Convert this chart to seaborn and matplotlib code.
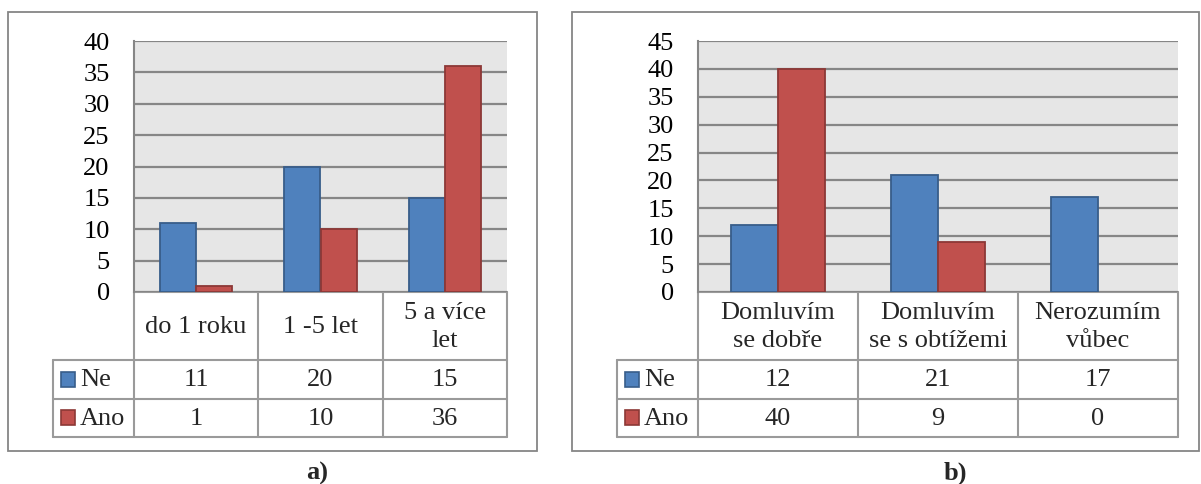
import pandas as pd
import seaborn as sns
import matplotlib.pyplot as plt
from matplotlib.patches import Rectangle

sns.set_theme(style="white")
plt.rcParams["font.family"] = ["Liberation Serif", "DejaVu Serif"]

# data
series = ["Ne", "Ano"]
a_categories = ["do 1 roku", "1 -5 let", "5 a více\nlet"]
a_ne = [11, 20, 15]
a_ano = [1, 10, 36]
b_categories = ["Domluvím\nse dobře", "Domluvím\nse s obtížemi", "Nerozumím\nvůbec"]
b_ne = [12, 21, 17]
b_ano = [40, 9, 0]

colors = {"Ne": "#4f81bd", "Ano": "#c0504d"}
edges = {"Ne": "#385d8a", "Ano": "#8c3836"}
GRID = "#868686"
TABLE = "#9a9a9a"
FS = 19

W, H = 1201, 484
fig = plt.figure(figsize=(W / 100, H / 100), dpi=100)

# overlay in pixel coords for borders and the data table
over = fig.add_axes([0, 0, 1, 1])
over.set_xlim(0, W)
over.set_ylim(H, 0)
over.axis("off")


def px_axes(l, t, r, b):
    return fig.add_axes([l / W, 1 - b / H, (r - l) / W, (b - t) / H])


def panel(cats, ne, ano, ymax, box, plot, leg_left, rows, width, label, label_x):
    l, t, r, b = plot
    over.add_patch(Rectangle((box[0], box[1]), box[2] - box[0], box[3] - box[1],
                             fill=False, ec=GRID, lw=1.3))

    df = pd.DataFrame({
        "cat": cats * 2,
        "serie": [series[0]] * len(cats) + [series[1]] * len(cats),
        "val": ne + ano,
    })
    ax = px_axes(l, t, r, b)
    sns.barplot(data=df, x="cat", y="val", hue="serie", order=cats,
                hue_order=series, palette=colors, width=width, gap=0,
                saturation=1, legend=False, ax=ax)
    for cont, s in zip(ax.containers, series):
        for p in cont:
            p.set_edgecolor(edges[s])
            p.set_linewidth(1.3)
            if p.get_height() == 0:
                p.set_visible(False)
    ax.set_facecolor("#e6e6e6")
    ax.set_ylim(0, ymax)
    ax.set_xlim(-0.5, len(cats) - 0.5)
    ax.set_yticks(range(0, ymax + 1, 5))
    ax.yaxis.grid(True, color=GRID, lw=1.6)
    ax.set_axisbelow(True)
    ax.set_xticks([])
    ax.set_xlabel("")
    ax.set_ylabel("")
    for sp in ("top", "right", "bottom"):
        ax.spines[sp].set_visible(False)
    ax.spines["left"].set_color(GRID)
    ax.spines["left"].set_linewidth(1.5)
    ax.tick_params(axis="y", length=0, pad=17.5, labelsize=FS, labelcolor="black")

    # data table
    n = len(cats)
    cw = (r - l) / n
    cols = [l + i * cw for i in range(n + 1)]
    kw = dict(color=TABLE, lw=1.5)
    over.plot([l, r], [b, b], **kw)
    for x in cols:
        over.plot([x, x], [b, rows[-1]], **kw)
    over.plot([leg_left, leg_left], [rows[0], rows[-1]], **kw)
    for y in rows:
        over.plot([leg_left, r], [y, y], **kw)
    for i, c in enumerate(cats):
        cx = l + (i + 0.5) * cw
        over.text(cx, (b + rows[0]) / 2 + 1, c, ha="center", va="center",
                  fontsize=FS, linespacing=1.4)
        for j, vals in enumerate((ne, ano)):
            over.text(cx, (rows[j] + rows[j + 1]) / 2 + 1, str(vals[i]),
                      ha="center", va="center", fontsize=FS)
    for j, s in enumerate(series):
        yc = (rows[j] + rows[j + 1]) / 2
        over.add_patch(Rectangle((leg_left + 8, yc - 7.5), 14, 15,
                                 fc=colors[s], ec=edges[s], lw=1.2))
        over.text(leg_left + 27, yc + 1, s, ha="left", va="center", fontsize=FS)

    over.text(label_x, 473, label, ha="center", va="center",
              fontsize=FS, fontweight="bold")


panel(a_categories, a_ne, a_ano, 40,
      box=(8, 12, 537, 451), plot=(134, 41, 507, 292),
      leg_left=53, rows=[360, 398.5, 437], width=0.58,
      label="a)", label_x=317)
panel(b_categories, b_ne, b_ano, 45,
      box=(572, 12, 1199, 451), plot=(698, 41, 1178, 292),
      leg_left=617, rows=[360, 398.5, 437], width=0.59,
      label="b)", label_x=955)

fig.savefig("out.png", dpi=100)
